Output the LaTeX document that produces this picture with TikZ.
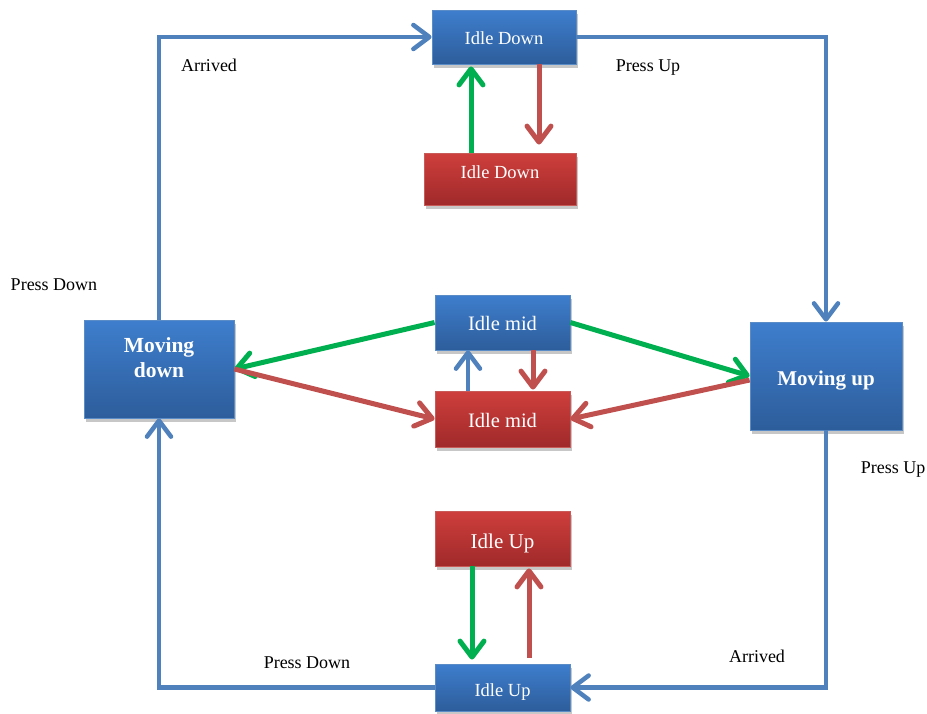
\documentclass[tikz,border=0pt]{standalone}
\usepackage{fontspec}
\setmainfont{Liberation Serif}
\usetikzlibrary{arrows.meta,shadows}

\definecolor{boxblueT}{HTML}{3E7ECD}
\definecolor{boxblueB}{HTML}{2D5D9B}
\definecolor{boxblueE}{HTML}{5A8CC8}
\definecolor{boxredT}{HTML}{CE3F3C}
\definecolor{boxredB}{HTML}{A0292A}
\definecolor{boxredE}{HTML}{C85A57}
\definecolor{linkblue}{HTML}{4F81BD}
\definecolor{linkgreen}{HTML}{00B050}
\definecolor{linkred}{HTML}{C0504D}

\tikzset{
  statebox/.style={draw, line width=0.8pt, minimum width=135pt, inner sep=0pt,
    drop shadow={shadow xshift=1.5pt, shadow yshift=-4pt, fill=black!22, opacity=1}},
  bluebox/.style={statebox, draw=boxblueE, top color=boxblueT, bottom color=boxblueB},
  redbox/.style={statebox, draw=boxredE, top color=boxredT, bottom color=boxredB},
  % caption of a state, #1 = vertical offset, #2 = font size, #3 = text
  caption/.style n args={3}{label={[text=white, align=center, inner sep=0pt,
    font=\fontsize{#2}{25}\selectfont, yshift=#1]center:{#3}}},
  link/.style={line width=5pt,
    -{Straight Barb[length=16pt,width=24pt,line cap=round,line join=round]}},
  bluelink/.style={link, draw=linkblue, line width=4.5pt},
  greenlink/.style={link, draw=linkgreen},
  redlink/.style={link, draw=linkred},
  lbl/.style={font=\fontsize{18}{20}\selectfont, text=black}
}

\begin{document}
\begin{tikzpicture}[x=1pt,y=-1pt]
\useasboundingbox (0,0) rectangle (927,713);

% states
\node[bluebox, minimum width=144pt, minimum height=54pt, caption={-1pt}{18.5}{Idle Down}]
  (idb) at (504,37) {};
\node[redbox, minimum width=152pt, minimum height=52pt, caption={7pt}{18.5}{Idle Down}]
  (idr) at (500,179) {};
\node[bluebox, minimum height=55pt, caption={-1pt}{20.5}{Idle mid}]
  (imb) at (502.5,322.5) {};
\node[redbox, minimum height=56pt, caption={-1pt}{20.5}{Idle mid}]
  (imr) at (502.5,419) {};
\node[bluebox, minimum width=150pt, minimum height=98pt,
  caption={11pt}{21.5}{\bfseries Moving\\\bfseries down}]
  (md) at (159,369) {};
\node[bluebox, minimum width=152pt, minimum height=108pt, caption={-5pt}{21}{\bfseries Moving up}]
  (mu) at (826,376) {};
\node[redbox, minimum height=55pt, caption={-5pt}{21}{Idle Up}]
  (iur) at (502.5,538.5) {};
\node[bluebox, minimum height=47pt, caption={-5pt}{18.5}{Idle Up}]
  (iub) at (502.5,687.5) {};

% outer loop
\draw[bluelink] (md.north) |- (idb.west);
\draw[bluelink] (idb.east) -| (mu.north);
\draw[bluelink] (mu.south) |- (iub.east);
\draw[bluelink] (iub.west) -| (md.south);

% top pair
\draw[greenlink, shorten >=2pt] ([xshift=-29pt]idr.north) -- ([xshift=-29pt]idr.north |- idb.south);
\draw[redlink, shorten >=8pt] ([xshift=35pt]idb.south) -- ([xshift=35pt]idb.south |- idr.north);

% middle
\draw[greenlink] (imb.west) -- (md.east);
\draw[greenlink] (imb.east) -- (mu.west);
\draw[redlink] (md.east) -- (imr.west);
\draw[redlink] ([yshift=-4pt]mu.west) -- (imr.east);
\draw[bluelink] ([xshift=-34.5pt]imr.north) -- ([xshift=-34.5pt]imr.north |- imb.south);
\draw[redlink, shorten >=1pt] ([xshift=30.5pt]imb.south) -- ([xshift=30.5pt]imb.south |- imr.north);

% bottom pair
\draw[greenlink, shorten >=4pt] ([xshift=-30.5pt]iur.south) -- ([xshift=-30.5pt]iur.south |- iub.north);
\draw[redlink, shorten <=6pt, shorten >=2pt] ([xshift=26.5pt]iub.north) -- ([xshift=26.5pt]iub.north |- iur.south);

% transition labels
\node[lbl] (l1) at (209,65) {Arrived};
\node[lbl] (l2) at (648,68) {Press Up};
\node[lbl] (l3) at (54,285) {Press Down};
\node[lbl] (l4) at (893,470) {Press Up};
\node[lbl] (l5) at (757,656) {Arrived};
\node[lbl] (l6) at (307,663) {Press Down};
\end{tikzpicture}
\end{document}
